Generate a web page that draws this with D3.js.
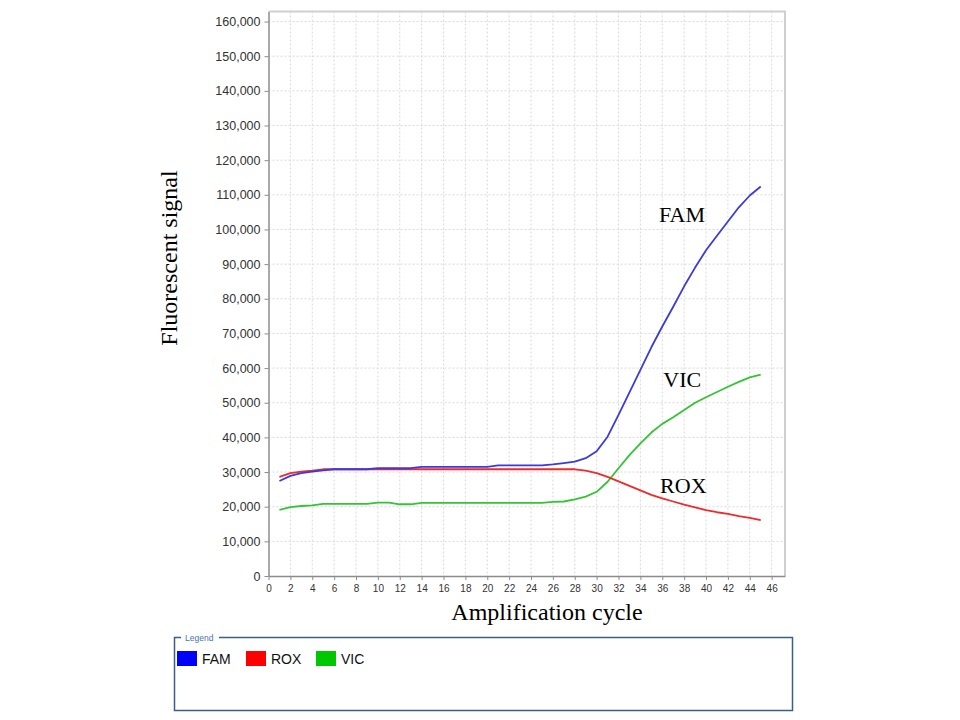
<!DOCTYPE html>
<html>
<head>
<meta charset="utf-8">
<script src="https://cdn.jsdelivr.net/npm/d3@7"></script>
<style>
  body { margin: 0; background: #fff; }
  svg { display: block; }
  .tick text { fill: #333; font-family: "Liberation Sans", Arial, sans-serif; }
</style>
</head>
<body>
<svg id="chart" width="960" height="720"></svg>
<script>
// data
var cycles = d3.range(1, 46)
var seriesNames = ['FAM', 'ROX', 'VIC']
var famValues = [27400, 28900, 29700, 30100, 30500, 30800, 30800, 30800, 30800, 31100,
                 31100, 31100, 31100, 31500, 31500, 31500, 31500, 31500, 31500, 31500,
                 31900, 31900, 31900, 31900, 31900, 32200, 32600, 33000, 34000, 36000,
                 40200, 46500, 53000, 59500, 66000, 72000, 77700, 83600, 89000, 94000,
                 98200, 102300, 106400, 109800, 112400]
var roxValues = [28600, 29700, 30100, 30400, 30800, 30800, 30800, 30800, 30800, 30800,
                 30800, 30800, 30800, 30800, 30800, 30800, 30800, 30800, 30800, 30800,
                 30800, 30800, 30800, 30800, 30800, 30800, 30800, 30800, 30400, 29700,
                 28600, 27300, 26000, 24700, 23400, 22400, 21500, 20600, 19800, 19000,
                 18400, 17900, 17300, 16800, 16100]
var vicValues = [19100, 19900, 20200, 20400, 20800, 20800, 20800, 20800, 20800, 21200,
                 21200, 20700, 20700, 21100, 21100, 21100, 21100, 21100, 21100, 21100,
                 21100, 21100, 21100, 21100, 21100, 21400, 21500, 22100, 22900, 24300,
                 27200, 31100, 34900, 38300, 41400, 43900, 45800, 47900, 50000, 51600,
                 53100, 54600, 56000, 57300, 58100]
var xTicks = d3.range(0, 47, 2)
var yTicks = d3.range(0, 160001, 10000)

document.addEventListener('DOMContentLoaded', () => {
    var left = 268.5, right = 785, top = 11.5, bottom = 576

    var svg = d3.select('#chart')

    var xScale = d3.scaleLinear()
                .domain([0, 47.22])
                .range([left, right])

    var yScale = d3.scaleLinear()
                .domain([0, 162900])
                .range([bottom, top])

    var lineColors = { FAM: '#3a3ae0', ROX: '#ee2a2a', VIC: '#33c433' }
    var swatchColors = { FAM: '#0000ff', ROX: '#ff0000', VIC: '#00c800' }
    var valuesByName = { FAM: famValues, ROX: roxValues, VIC: vicValues }

    // grid
    var grid = svg.append('g')
    grid.selectAll('line.vg')
        .data(xTicks.slice(1))
        .enter()
        .append('line')
            .attr('x1', d => xScale(d)).attr('x2', d => xScale(d))
            .attr('y1', top).attr('y2', bottom)
            .attr('stroke', '#d9d9d9')
            .attr('stroke-dasharray', '2,2')
    grid.selectAll('line.hg')
        .data(yTicks.slice(1))
        .enter()
        .append('line')
            .attr('x1', left).attr('x2', right)
            .attr('y1', d => yScale(d)).attr('y2', d => yScale(d))
            .attr('stroke', '#d9d9d9')
            .attr('stroke-dasharray', '2,2')

    // plot frame (top/right)
    svg.append('path')
        .attr('d', 'M' + left + ',' + top + 'H' + right + 'V' + bottom)
        .attr('fill', 'none')
        .attr('stroke', '#cfcfcf')
        .attr('stroke-width', 2)

    // axes
    var yAxis = d3.axisLeft(yScale)
                .tickValues(yTicks)
                .tickFormat(d3.format(','))
                .tickSize(4)
                .tickSizeOuter(0)
                .tickPadding(4)

    var xAxis = d3.axisBottom(xScale)
                .tickValues(xTicks)
                .tickSize(4)
                .tickSizeOuter(0)
                .tickPadding(5)

    var gy = svg.append('g')
        .attr('transform', 'translate(' + left + ',0)')
        .call(yAxis)
    gy.selectAll('text').style('font-size', '12.5px')

    var gx = svg.append('g')
        .attr('transform', 'translate(0,' + bottom + ')')
        .call(xAxis)
    gx.selectAll('text').style('font-size', '10px')

    svg.selectAll('.domain').attr('stroke', '#8c8c8c').attr('stroke-width', 1.5)
    svg.selectAll('.tick line').attr('stroke', '#8c8c8c')

    // lines
    var line = d3.line()
                .x((d, i) => xScale(cycles[i]))
                .y(d => yScale(d))

    ;['VIC', 'ROX', 'FAM'].forEach(name => {
        svg.append('path')
            .datum(valuesByName[name])
            .attr('d', line)
            .attr('fill', 'none')
            .attr('stroke', lineColors[name])
            .attr('stroke-width', 1.8)
            .attr('stroke-linejoin', 'round')
    })

    // series labels on the plot
    var annotations = [
        { name: 'FAM', cycle: 35.7, value: 102200 },
        { name: 'VIC', cycle: 36.1, value: 54600 },
        { name: 'ROX', cycle: 35.8, value: 23900 }
    ]
    svg.selectAll('text.anno')
        .data(annotations)
        .enter()
        .append('text')
            .text(d => d.name)
            .attr('x', d => xScale(d.cycle))
            .attr('y', d => yScale(d.value))
            .style('font-family', '"Liberation Serif", "Times New Roman", serif')
            .style('font-size', '22px')
            .attr('fill', '#000')

    // axis titles
    svg.append('text')
        .text('Amplification cycle')
        .attr('x', 547)
        .attr('y', 620)
        .attr('text-anchor', 'middle')
        .style('font-family', '"Liberation Serif", "Times New Roman", serif')
        .style('font-size', '24px')

    svg.append('text')
        .text('Fluorescent signal')
        .attr('text-anchor', 'middle')
        .attr('transform', 'translate(177,258) rotate(-90)')
        .style('font-family', '"Liberation Serif", "Times New Roman", serif')
        .style('font-size', '24px')

    // legend box
    var lg = svg.append('g')
    lg.append('rect')
        .attr('x', 174.5).attr('y', 637.5)
        .attr('width', 618).attr('height', 73)
        .attr('fill', 'none')
        .attr('stroke', '#3b5f84')
        .attr('stroke-width', 1.5)
    lg.append('rect')
        .attr('x', 181).attr('y', 633)
        .attr('width', 38).attr('height', 9)
        .attr('fill', '#fff')
    lg.append('text')
        .text('Legend')
        .attr('x', 185).attr('y', 641)
        .style('font-family', '"Liberation Sans", Arial, sans-serif')
        .style('font-size', '8.5px')
        .attr('fill', '#4a73b0')

    var itemX = { FAM: 177, ROX: 246, VIC: 316 }
    var items = lg.selectAll('g.item')
        .data(seriesNames)
        .enter()
        .append('g')
            .attr('transform', d => 'translate(' + itemX[d] + ',651)')
    items.append('rect')
        .attr('width', 20).attr('height', 15)
        .attr('fill', d => swatchColors[d])
    items.append('text')
        .text(d => d)
        .attr('x', 25).attr('y', 13)
        .style('font-family', '"Liberation Sans", Arial, sans-serif')
        .style('font-size', '14px')
        .attr('fill', '#111')
})
</script>
</body>
</html>
